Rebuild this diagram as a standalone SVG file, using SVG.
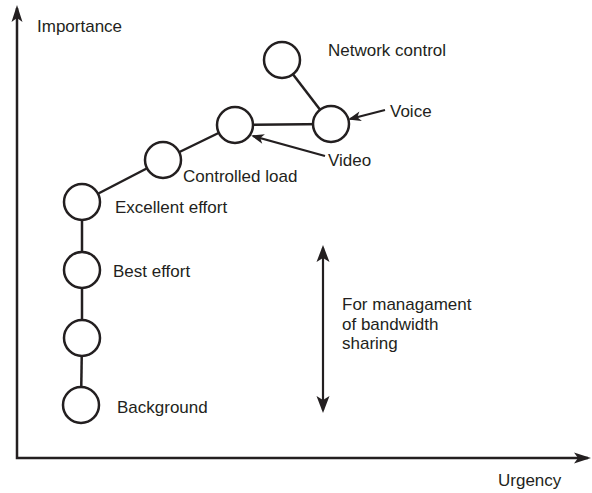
<svg xmlns="http://www.w3.org/2000/svg" width="592" height="493" viewBox="0 0 592 493">
<style>
.n{fill:#fff;stroke:#231f20;stroke-width:2.5}
.c{stroke:#231f20;stroke-width:2.5;fill:none}
.a{stroke:#231f20;stroke-width:2.2;fill:none}
text{font-family:"Liberation Sans",Arial,sans-serif;font-size:17px;fill:#231f20}
</style>
<defs>
<marker id="ax" markerUnits="userSpaceOnUse" orient="auto-start-reverse" refX="-3" refY="0" markerWidth="30" markerHeight="30" viewBox="-20 -10 30 20" overflow="visible">
<path d="M0,0 L-17,-5.5 L-13,0 L-17,5.5 Z" fill="#231f20"/>
</marker>
<marker id="lb" markerUnits="userSpaceOnUse" orient="auto" refX="-2" refY="0" markerWidth="20" markerHeight="20" viewBox="-15 -8 20 16" overflow="visible">
<path d="M0,0 L-13,-5 L-9.5,0 L-13,5 Z" fill="#231f20"/>
</marker>
<marker id="dbl" markerUnits="userSpaceOnUse" orient="auto-start-reverse" refX="-3" refY="0" markerWidth="30" markerHeight="30" viewBox="-20 -10 30 20" overflow="visible">
<path d="M0,0 L-17,-6.5 L-13,0 L-17,6.5 Z" fill="#231f20"/>
</marker>
</defs>

<g id="axes">
<path class="c" d="M17,8 L17,458 L588,458" stroke-linejoin="miter" marker-start="url(#ax)" marker-end="url(#ax)"/>
<text x="37" y="32">Importance</text>
<text x="498" y="486">Urgency</text>
</g>

<g id="connectors">
<line class="c" x1="81" y1="405" x2="82" y2="338"/>
<line class="c" x1="82" y1="338" x2="82" y2="270"/>
<line class="c" x1="82" y1="270" x2="82" y2="202"/>
<line class="c" x1="82" y1="202" x2="163" y2="160"/>
<line class="c" x1="163" y1="160" x2="235" y2="125"/>
<line class="c" x1="235" y1="125" x2="331" y2="124"/>
<line class="c" x1="331" y1="124" x2="282" y2="60"/>
<line class="a" x1="385" y1="110" x2="350" y2="119" marker-end="url(#lb)"/>
<line class="a" x1="325" y1="156" x2="253" y2="136" marker-end="url(#lb)"/>
<line class="a" x1="323" y1="248" x2="323" y2="410" marker-start="url(#dbl)" marker-end="url(#dbl)"/>
</g>

<g id="background">
<circle class="n" cx="81" cy="405" r="18"/>
<text x="117" y="413">Background</text>
</g>
<g id="unnamed">
<circle class="n" cx="82" cy="338" r="18"/>
</g>
<g id="best-effort">
<circle class="n" cx="82" cy="270" r="18"/>
<text x="113" y="277">Best effort</text>
</g>
<g id="excellent-effort">
<circle class="n" cx="82" cy="202" r="18"/>
<text x="115" y="213">Excellent effort</text>
</g>
<g id="controlled-load">
<circle class="n" cx="163" cy="160" r="18"/>
<text x="183" y="182">Controlled load</text>
</g>
<g id="video">
<circle class="n" cx="235" cy="125" r="18"/>
<text x="328" y="166">Video</text>
</g>
<g id="voice">
<circle class="n" cx="331" cy="124" r="18"/>
<text x="390" y="117">Voice</text>
</g>
<g id="network-control">
<circle class="n" cx="282" cy="60" r="18"/>
<text x="328" y="56">Network control</text>
</g>
<g id="bandwidth-note">
<text x="342" y="310">For managament</text>
<text x="342" y="329.5">of bandwidth</text>
<text x="342" y="349">sharing</text>
</g>
</svg>
